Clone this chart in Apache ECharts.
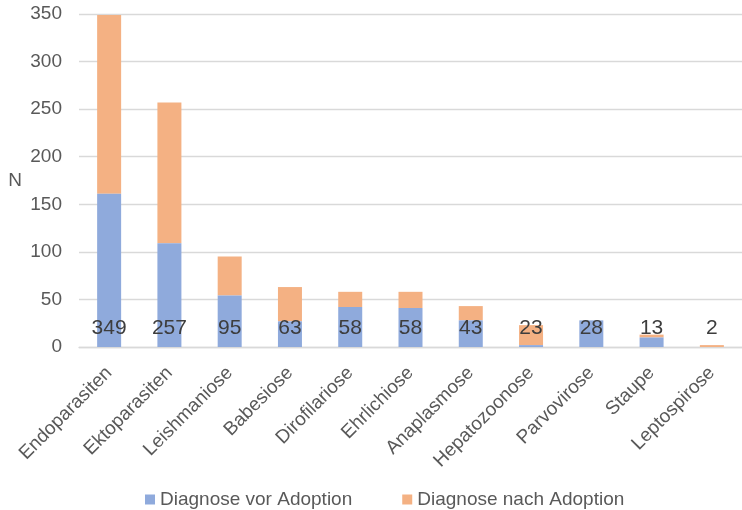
<!DOCTYPE html>
<html>
<head>
<meta charset="utf-8">
<script src="https://cdn.jsdelivr.net/npm/echarts@6/dist/echarts.min.js"></script>
<style>html,body{margin:0;padding:0;background:#fff;}#c{width:742px;height:510px;}</style>
</head>
<body>
<div id="c"></div>
<script>
const categories = ["Endoparasiten","Ektoparasiten","Leishmaniose","Babesiose","Dirofilariose","Ehrlichiose","Anaplasmose","Hepatozoonose","Parvovirose","Staupe","Leptospirose"];
const vorAdoption = [161,109,54,27,42,41,28,2,28,10,0];
const nachAdoption = [188,148,41,36,16,17,15,21,0,3,2];
const yTicks = {min:0, max:350, interval:50};
const seriesNames = ["Diagnose vor Adoption","Diagnose nach Adoption"];

const font = "Liberation Sans, Arial, sans-serif";
const chart = echarts.init(document.getElementById('c'));
chart.setOption({
  animation:false,
  textStyle:{fontFamily:font},
  grid:{left:79, top:14, width:667, height:333, containLabel:false},
  legend:{
    data:seriesNames, top:485, left:140, icon:'rect', itemWidth:10, itemHeight:10, itemGap:50,
    textStyle:{fontFamily:font, fontSize:19, color:'#595959'}
  },
  xAxis:{
    type:'category', data:categories,
    axisTick:{show:false},
    axisLine:{lineStyle:{color:'#d9d9d9', width:1.3}},
    axisLabel:{rotate:45, margin:23, fontFamily:font, fontSize:19, color:'#595959', interval:0}
  },
  yAxis:{
    type:'value', min:yTicks.min, max:yTicks.max, interval:yTicks.interval,
    name:'N', nameLocation:'middle', nameRotate:0, nameGap:57,
    nameTextStyle:{fontFamily:font, fontSize:19, color:'#595959'},
    axisLine:{show:false}, axisTick:{show:false},
    splitLine:{lineStyle:{color:'#d9d9d9', width:1.3}},
    axisLabel:{margin:17, fontFamily:font, fontSize:19, color:'#595959'}
  },
  series:[
    {
      name:seriesNames[0], type:'bar', stack:'t', data:vorAdoption, barWidth:24,
      itemStyle:{color:'#8faadc'},
      label:{
        show:true, position:'insideBottom', distance:8,
        fontFamily:font, fontSize:21, color:'#3d3d3d',
        formatter:p => String(vorAdoption[p.dataIndex] + nachAdoption[p.dataIndex])
      },
      z:3
    },
    {
      name:seriesNames[1], type:'bar', stack:'t', data:nachAdoption, barWidth:24,
      itemStyle:{color:'#f4b183'}, z:2
    }
  ]
});
</script>
</body>
</html>
